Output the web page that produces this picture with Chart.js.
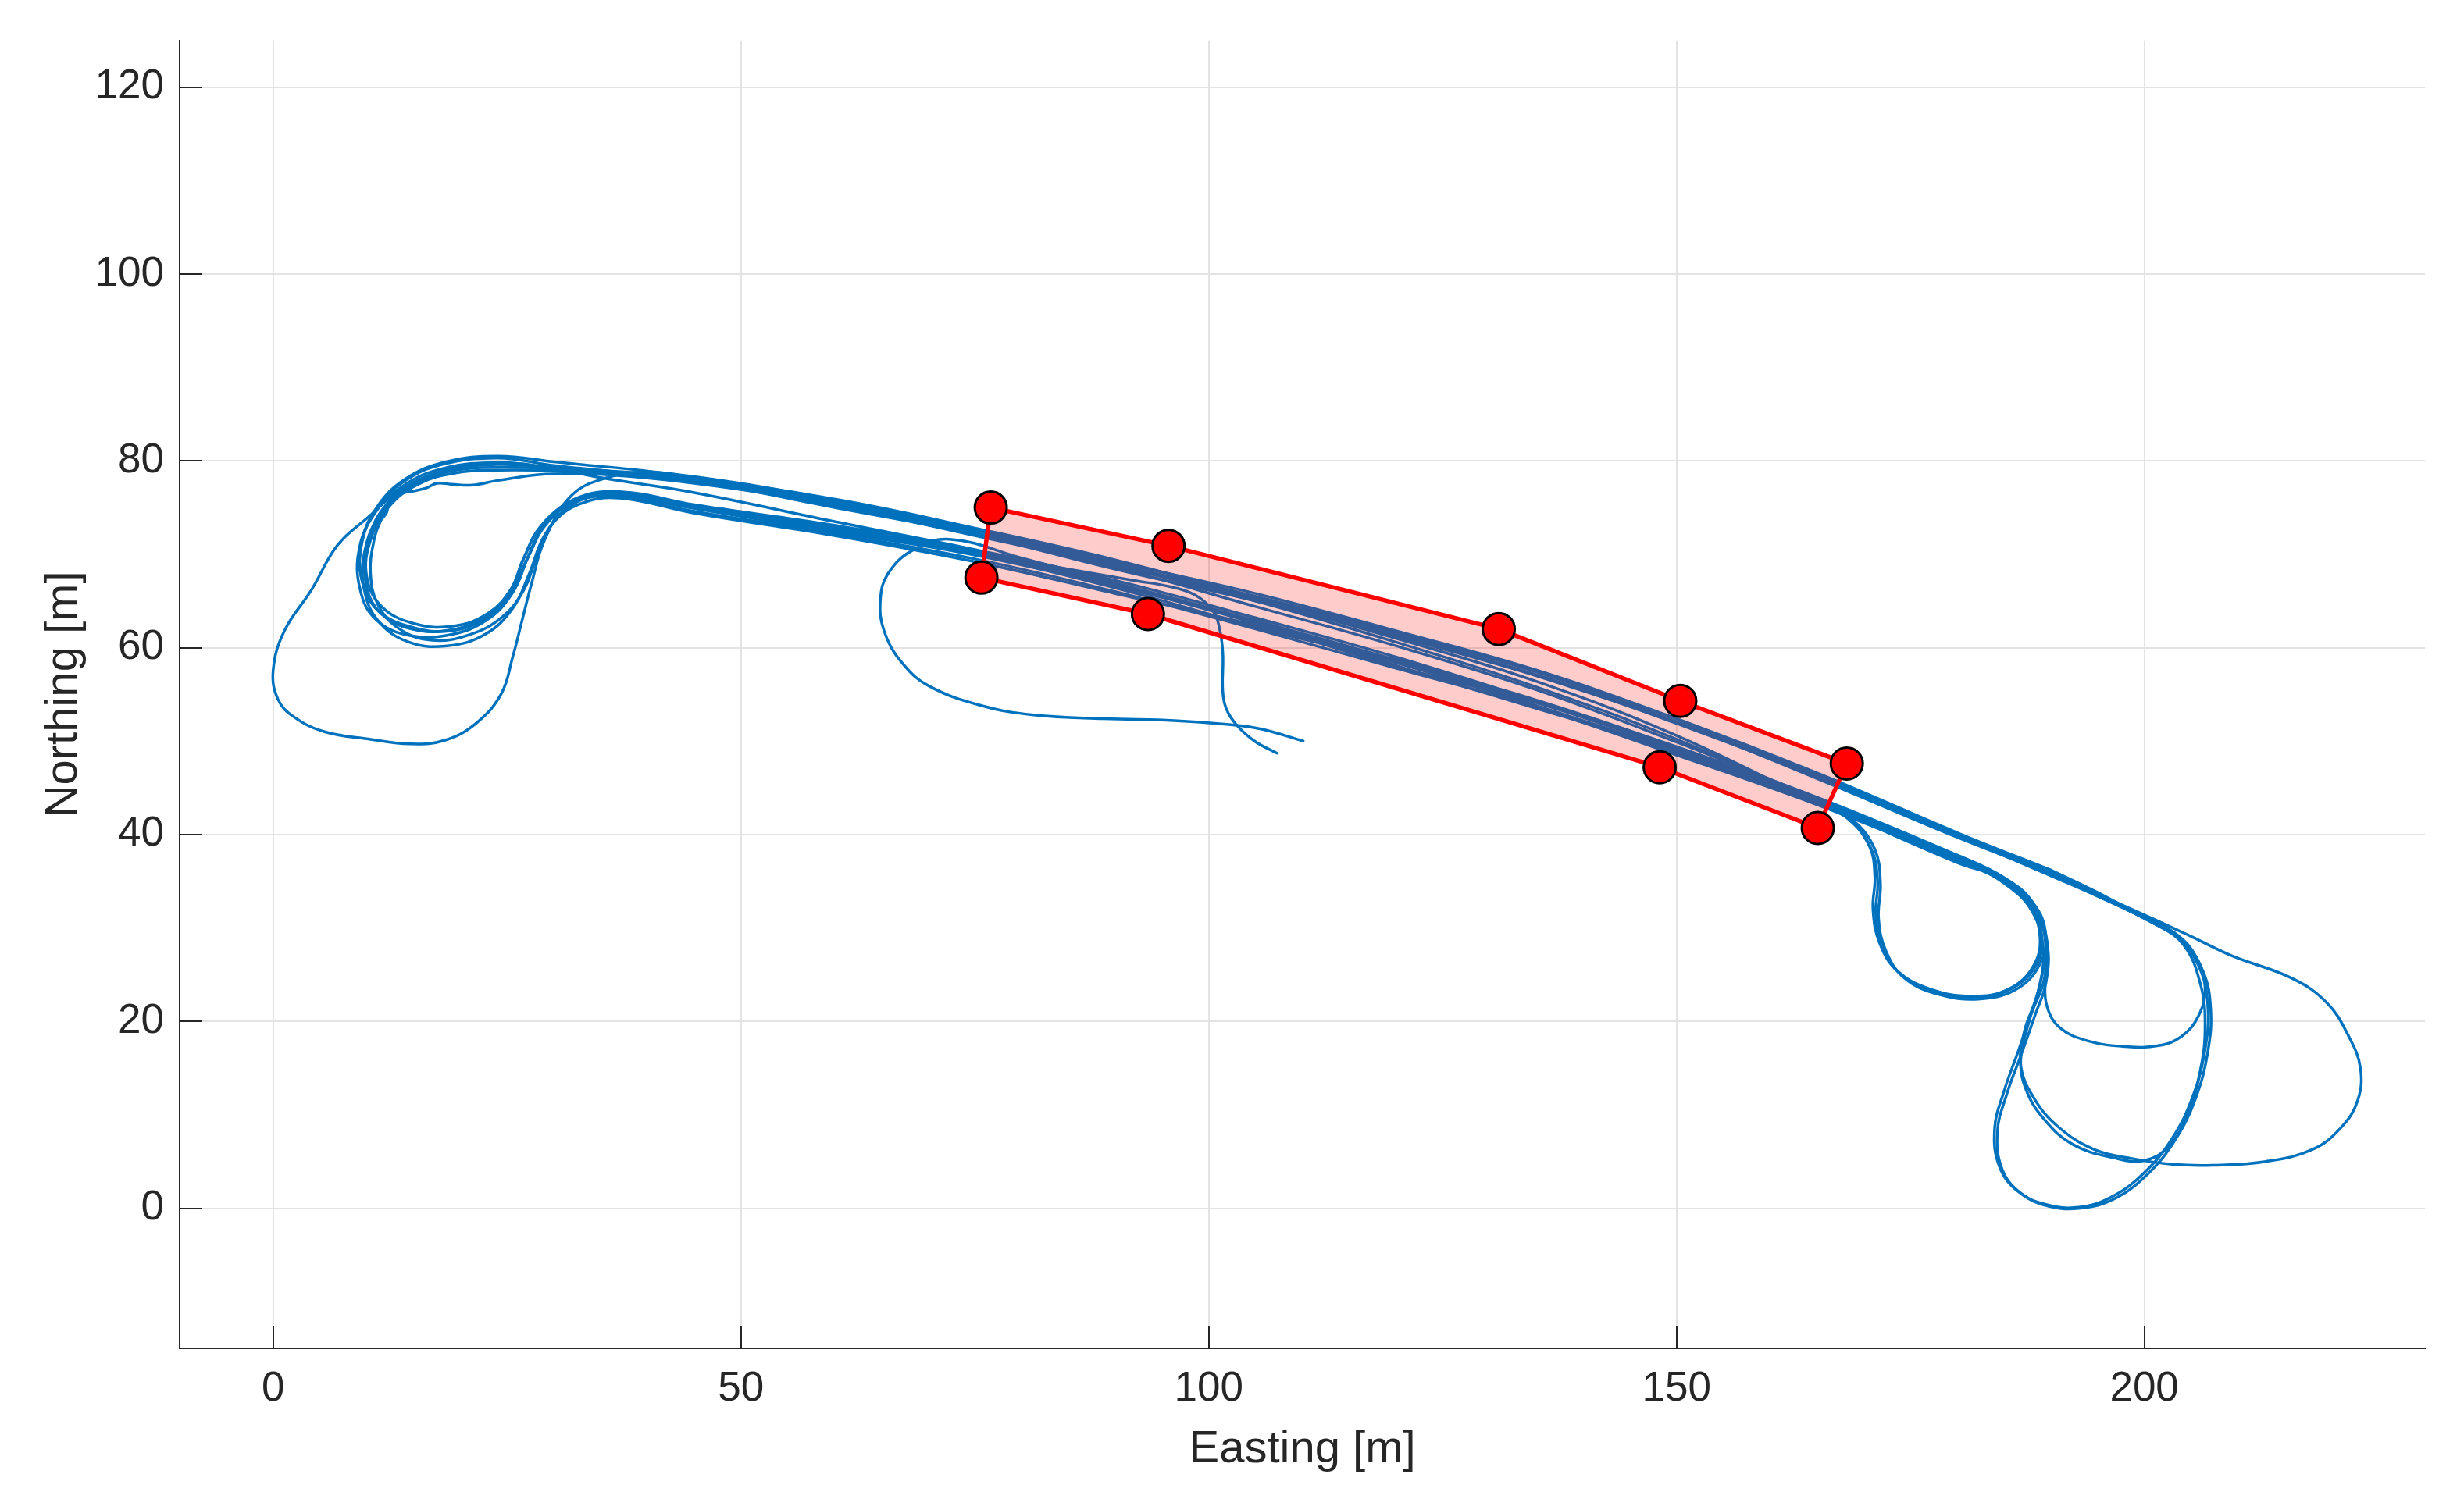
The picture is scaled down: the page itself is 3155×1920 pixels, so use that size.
<!DOCTYPE html>
<html>
<head>
<meta charset="utf-8">
<script src="https://cdn.jsdelivr.net/npm/chart.js@4.4.1/dist/chart.umd.min.js"></script>
<style>
  html, body { margin: 0; padding: 0; background: #ffffff; }
  canvas { display: block; }
</style>
</head>
<body>
<canvas id="trackChart" width="3155" height="1920"></canvas>
<script>
// axis ranges and ticks
var xRange = [-10, 230];
var yRange = [-15, 125];
var xTicks = [0, 50, 100, 150, 200];
var yTicks = [0, 20, 40, 60, 80, 100, 120];

// region corners (Easting / Northing)
var regionX = [76.7, 95.7, 131.0, 150.4, 168.2, 165.1, 148.2, 93.5, 75.7];
var regionY = [75.0, 70.9, 62.0, 54.3, 47.6, 40.7, 47.2, 63.6, 67.5];

// GPS track, split in laps [easting, northing]
var trackStart = [
  [110.1,50.0],[105.6,51.3],[101.9,51.8],[96.3,52.2],[88.8,52.4],[81.3,52.8],[75.7,53.8],[70.1,55.9],
  [67.2,58.4],[65.3,61.8],[64.9,65.1],[65.7,67.9],[68.3,70.4],[72.3,71.6],[80,69.6],[90,66.9],
  [105,62.8],[120,58.6],[135,54.2],[150,49.2],[165,43.8],[180,37.3],
  [185,35.0],[187.8,32.5],[189.0,29.5],[188.6,26.3],[186.0,23.6],[182.0,22.6],[177.5,23.2],[174.0,25.0],
  [172.0,28.0],[171.3,31.5],[171.5,35.0],[170.8,38.5],[168.5,41.6],[165,43.6]
];
var lap1 = [
  [165,43.6],[150,50.2],[135,55.8],[120,60.6],[105,65.0],[90,68.8],[75,72.2],[60,75.4],[45,77.9],[30,79.5],
  [24,80.3],[18,79.6],[14,77.8],[11,74.8],[9.4,70.8],[9.6,66.8],[11.6,63.6],[15.4,61.9],[19.6,62.0],[23.3,63.6],
  [25.8,66.3],[27.3,69.8],[29.3,73.4],[32.5,75.7],[37,76.2],
  [45,74.9],[60,72.4],[75,69.9],[90,66.4],[105,62.2],[120,58.4],[135,53.7],[150,48.7],[165,43.4],[180,37.0],
  [185,35.2],[188,32.6],[189.5,28.5],[189.3,24.5],[188,21],[186.6,17],[185,12.5],[184,8.5],[184.5,4.5],
  [186.5,1.8],[189.5,0.4],[193,0.1],[196.5,1.2],[200,3.8],[203,7.5],[205.2,12],[206.5,17],[206.8,21.5],
  [206,25.5],[203.8,28.8],[200.5,30.8],[195,33.8],[190,36.2]
];
var lap2 = [
  [190,36.2],[180,40.2],[165,46.6],[150,52.4],[135,57.6],[120,61.8],[105,65.8],[90,69.2],[75,72.6],[60,75.8],[45,78.3],[30,79.9],
  [24,80.5],[18.5,79.9],[14.2,78.1],[11.2,75.2],[9.5,71.4],[9.5,67.2],[11.2,64],[14.8,62.2],[19,61.8],[22.8,63.2],
  [25.4,65.8],[27,69.2],[29,73],[32.2,75.6],[37,76.5],
  [45,75.1],[60,72.9],[75,70.2],[90,66.7],[105,62.6],[120,58.0],[135,54.1],[150,49.1],[165,43.9],[180,37.6],
  [185,35.3],[188,32.8],[189.4,29.8],[189,26.5],[186.6,23.6],[182.5,22.4],[178,22.9],[174.4,24.6],[172.4,27.5],
  [171.6,31],[171.8,34.8],[171.2,38.4],[169,41.4],[165,43.9]
];
var lap3 = [
  [165,43.9],[150,49.9],[135,55.5],[120,60.2],[105,64.4],[90,68.6],[75,72.0],[60,75.2],[45,77.6],[30,78.9],
  [24,79.0],[19.5,78.7],[15.5,77.5],[12.3,75],[10.4,71.5],[10,67.6],[11.6,64.4],[15,62.6],[19.2,62.3],[23,63.7],
  [25.5,66.4],[26.8,69.6],[28.6,73],[31.8,75.5],[36,76.3],
  [45,74.6],[60,72.2],[75,69.5],[90,66.0],[105,62.0],[120,57.8],[135,53.6],[150,48.5],[165,43.2],[180,37.2],
  [185,35.0],[188.2,32.4],[189.6,28.6],[189.4,24.5],[189.6,21.6],[191,19.3],[194,17.9],[198,17.3],[201.5,17.4],
  [204,18.4],[205.8,20.6],[206.5,23.6],[205.6,26.8],[203.6,29.2],[200.4,31.0],[195,33.6],[190,35.9]
];
var lap4 = [
  [190,35.9],[180,40.0],[165,46.2],[150,51.9],[135,57.1],[120,61.4],[105,65.4],[90,69.4],[75,72.8],[60,75.9],[45,78.0],[30,78.6],
  [24,77.9],[21.3,77.4],[19,77.5],[17.5,77.6],[16.4,77.1],[15.2,76.8],[13.4,76.4],[12.4,75.4],[12.1,74.4],[11.5,73.6],
  [10.8,71.6],[10.4,68],[11.2,64.6],[13.5,62],[17,60.8],[21,61.4],[24.5,63.3],[26.8,66.2],[28.2,69.8],[29.8,73.2],
  [32.8,75.4],[37,76],
  [45,74.4],[60,72.0],[75,69.2],[90,65.8],[105,62.4],[120,58.5],[135,53.8],[150,48.9],[165,43.5],[180,37.4],
  [185,35.1],[187.6,32.6],[188.8,29.6],[188.3,26.2],[185.6,23.5],[181.5,22.7],[177,23.5],[173.6,25.4],[171.7,28.4],
  [171,32],[171.2,35.5],[170.6,38.8],[168.2,41.8],[165,43.4]
];
var lap5 = [
  [165,43.4],[150,50.6],[135,56.4],[120,61.0],[105,65.2],[90,69.0],[75,72.4],[60,75.5],[45,78.1],[30,79.3],
  [24,79.6],[19,79],[14.6,77.2],[11.4,74.2],[9.8,70.4],[9.7,66.4],[11.2,62.9],[14.5,60.6],[18.6,60.2],[22.6,61.4],
  [25.6,64.2],[27.4,68],[29,72],[31.8,75.2],[36,76.4],
  [45,75.0],[60,72.7],[75,70.0],[90,66.6],[105,62.8],[120,58.1],[135,53.5],[150,49.0],[165,43.7],[180,37.3],
  [185,35.0],[188,32.4],[189.6,28.4],[189.5,24.2],[188.3,20.6],[186.9,16.6],[185.3,12.2],[184.3,8.2],[184.8,4.2],
  [186.8,1.6],[189.8,0.2],[193.2,0.0],[196.8,1.0],[200.3,3.6],[203.3,7.3],[205.5,11.8],[206.8,16.8],[207.1,21.3],
  [206.3,25.3],[204.1,28.6],[200.8,30.6],[195,33.5],[190,35.8]
];
var lap6 = [
  [190,35.8],[180,39.7],[165,46.0],[150,52.0],[135,57.0],[120,61.2],[105,65.0],[90,68.4],[75,72.1],[60,75.0],[45,77.8],[30,79.2],
  [24,79.8],[18,78.9],[13.5,76.8],[10.2,74],[6.9,71],[4.1,66.2],[1.2,61.8],[0,57.6],[0.5,54.5],[2.2,52.6],[5.5,51],
  [10.3,50.2],[14.6,49.7],[18.4,50.1],[21.8,52],[24.4,55.1],[25.6,59],[26.6,62.9],[27.6,66.8],[29,71.5],[31.9,76.3],
  [35.7,78.2],[40,78.8],
  [45,78.2],[60,75.7],[75,72.5],[90,68.8],[105,65.3],[120,61.5],[135,57.0],[150,52.0],[165,46.4],[180,40.0],[190,35.8],[200,31.4],
  [205,29.1],[209.4,27],[215.8,24.6],[219.5,22],[221.8,18.5],[223.1,15],[222.8,11.5],[221,8.6],[218,6.3],[213,5.0],
  [207.3,4.6],[203,4.7],[198.8,5.3],[194.6,6.3],[190.7,8.8],[188.2,11.8],[186.8,15.2],[187.2,19],[188.6,23],
  [189.2,27.5],[188,31.8],[185,34.8],[180,37.6]
];
var lap7 = [
  [180,37.6],[165,43.6],[150,49.3],[135,54.3],[120,59.0],[105,63.2],[90,67.2],[75,70.5],[60,73.5],[45,76.6],[35,78.2],[30,79.2],
  [24,79.8],[18.2,79.2],[14,77.4],[11,74.6],[9.2,70.6],[9.3,66.2],[11,63],[14.6,61.3],[19,61.4],[22.9,63],
  [25.6,65.9],[27.1,69.4],[29,73.2],[32.2,75.9],[37,76.7],
  [45,75.3],[60,73.1],[75,70.4],[90,66.9],[105,62.9],[120,58.7],[135,54.4],[150,49.4],[165,44.0],[180,37.8],
  [185,35.4],[188.1,32.7],[189.4,28.8],[189.0,24.6],[187.8,20.4],[186.8,16.0],[187.4,12.6],[189.4,9.4],[192.4,6.8],
  [196.7,5.4],[200,5.1],[202.6,6.6],[204.6,10],[206,14.8],[206.5,19.6],[206,24],[204.2,28.2],[201.2,30.4],
  [195,33.4],[190,35.6]
];
var trackEnd = [
  [190,35.6],[180,39.9],[165,46.3],[150,52.1],[135,57.4],[120,61.6],[105,65.5],[90,68.9],[75,72.3],[60,75.3],[45,77.7],[30,79.1],
  [24,79.3],[19.5,79],[15.4,77.7],[12,75.2],[10.1,71.2],[9.9,67],[11.4,63.8],[14.8,62],[19,61.9],[22.8,63.4],
  [25.3,66],[26.7,69.4],[28.6,73],[31.8,75.6],[36,76.6],
  [45,75.0],[60,72.6],[75,70.2],[85,68.4],[92,67.2],[96,66.5],[98.6,65.6],[100.4,64.0],[101.1,62.3],[101.5,59.5],
  [101.5,55.3],[101.9,53.4],[103,51.7],[104.9,50.0],[107.3,48.7]
];

var laps = [trackStart, lap1, lap2, lap3, lap4, lap5, lap6, lap7, trackEnd];

var fontFamily = "'Liberation Sans', Arial, Helvetica, sans-serif";
var textColor = '#262626';

function toPoints(pairs) {
  return pairs.map(function (p) { return {x: p[0], y: p[1]}; });
}

// MATLAB style ticks, pointing into the axes
var inwardTicks = {
  id: 'inwardTicks',
  beforeDatasetsDraw: function (chart) {
    var ctx = chart.ctx;
    var area = chart.chartArea;
    var sx = chart.scales.x, sy = chart.scales.y;
    ctx.save();
    ctx.strokeStyle = textColor;
    ctx.lineWidth = 2;
    ctx.beginPath();
    xTicks.forEach(function (v) {
      var px = Math.round(sx.getPixelForValue(v));
      ctx.moveTo(px, area.bottom);
      ctx.lineTo(px, area.bottom - 29);
    });
    yTicks.forEach(function (v) {
      var py = Math.round(sy.getPixelForValue(v));
      ctx.moveTo(area.left, py);
      ctx.lineTo(area.left + 29, py);
    });
    ctx.stroke();
    ctx.restore();
  }
};

var datasets = [];

// region corners on top
datasets.push({
  data: regionX.map(function (x, i) { return {x: x, y: regionY[i]}; }),
  showLine: false,
  pointRadius: 20.5,
  pointBackgroundColor: '#ff0000',
  pointBorderColor: '#000000',
  pointBorderWidth: 3,
  order: 0
});

// region outline with translucent fill
var closedY = regionY.concat([regionY[0]]);
var regionClosed = regionX.concat([regionX[0]]).map(function (x, i) {
  return {x: x, y: closedY[i]};
});
datasets.push({
  data: regionClosed,
  showLine: true,
  pointRadius: 0,
  borderColor: '#ff0000',
  borderWidth: 5.5,
  borderJoinStyle: 'round',
  backgroundColor: 'rgba(255,0,0,0.2)',
  fill: 'shape',
  tension: 0,
  order: 1
});

laps.forEach(function (lap) {
  datasets.push({
    data: toPoints(lap),
    showLine: true,
    pointRadius: 0,
    borderColor: '#0072BD',
    borderWidth: 3.5,
    borderCapStyle: 'round',
    borderJoinStyle: 'round',
    tension: 0.4,
    fill: false,
    order: 2
  });
});

var ctx = document.getElementById('trackChart').getContext('2d');

new Chart(ctx, {
  type: 'scatter',
  data: { datasets: datasets },
  plugins: [inwardTicks],
  options: {
    responsive: false,
    devicePixelRatio: 1,
    animation: false,
    events: [],
    layout: { padding: { top: 51, right: 50, bottom: 0, left: 0 } },
    plugins: {
      legend: { display: false },
      tooltip: { enabled: false }
    },
    scales: {
      x: {
        type: 'linear',
        min: xRange[0],
        max: xRange[1],
        afterBuildTicks: function (s) { s.ticks = xTicks.map(function (v) { return {value: v}; }); },
        afterFit: function (s) { s.height = 193; },
        grid: { color: '#e3e3e3', lineWidth: 2, drawTicks: false },
        border: { display: true, color: textColor, width: 2 },
        ticks: {
          padding: 21,
          color: textColor,
          maxRotation: 0,
          autoSkip: false,
          font: { family: fontFamily, size: 53 }
        },
        title: {
          display: true,
          text: 'Easting [m]',
          color: textColor,
          font: { family: fontFamily, size: 58 },
          padding: { top: 0, bottom: 28 }
        }
      },
      y: {
        type: 'linear',
        min: yRange[0],
        max: yRange[1],
        afterBuildTicks: function (s) { s.ticks = yTicks.map(function (v) { return {value: v}; }); },
        afterFit: function (s) { s.width = 230; },
        grid: { color: '#e3e3e3', lineWidth: 2, drawTicks: false },
        border: { display: true, color: textColor, width: 2 },
        ticks: {
          padding: 20,
          color: textColor,
          autoSkip: false,
          font: { family: fontFamily, size: 53 }
        },
        title: {
          display: true,
          text: 'Northing [m]',
          color: textColor,
          font: { family: fontFamily, size: 58 },
          padding: { top: 47, bottom: 0 }
        }
      }
    }
  }
});
</script>
</body>
</html>
